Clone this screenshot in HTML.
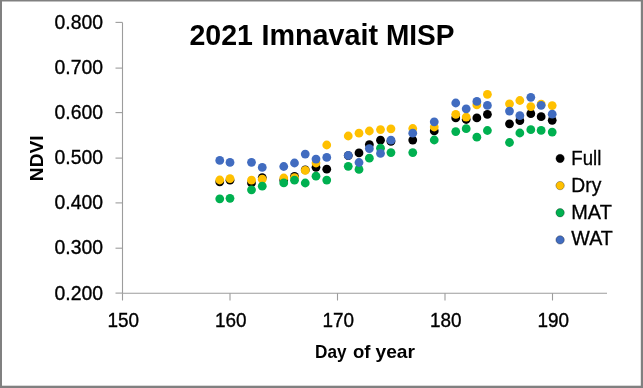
<!DOCTYPE html>
<html><head><meta charset="utf-8"><style>
html,body{margin:0;padding:0;background:#fff;}
body{width:643px;height:388px;overflow:hidden;}
svg{display:block;will-change:transform;font-family:"Liberation Sans",sans-serif;}
</style></head><body>
<svg width="643" height="388" viewBox="0 0 643 388">
<rect x="0" y="0" width="643" height="388" fill="#808080"/>
<rect x="2" y="1.5" width="638.8" height="384.2" fill="#ffffff"/>
<g stroke="#9c9c9c" stroke-width="1.1" fill="none">
<line x1="122.5" y1="22.4" x2="122.5" y2="293.2"/>
<line x1="122.5" y1="293.2" x2="607" y2="293.2"/>
<line x1="115.5" y1="22.40" x2="122.5" y2="22.40"/>
<line x1="115.5" y1="68.10" x2="122.5" y2="68.10"/>
<line x1="115.5" y1="112.60" x2="122.5" y2="112.60"/>
<line x1="115.5" y1="158.10" x2="122.5" y2="158.10"/>
<line x1="115.5" y1="202.90" x2="122.5" y2="202.90"/>
<line x1="115.5" y1="248.20" x2="122.5" y2="248.20"/>
<line x1="115.5" y1="293.10" x2="122.5" y2="293.10"/>
<line x1="122.50" y1="293.2" x2="122.50" y2="300.5"/>
<line x1="230.00" y1="293.2" x2="230.00" y2="300.5"/>
<line x1="337.50" y1="293.2" x2="337.50" y2="300.5"/>
<line x1="445.00" y1="293.2" x2="445.00" y2="300.5"/>
<line x1="552.50" y1="293.2" x2="552.50" y2="300.5"/>
</g>
<g font-size="19.6" fill="#000" stroke="#000" stroke-width="0.35">
<text x="54.6" y="28.72" textLength="48.5" lengthAdjust="spacingAndGlyphs">0.800</text>
<text x="54.6" y="73.85" textLength="48.5" lengthAdjust="spacingAndGlyphs">0.700</text>
<text x="54.6" y="118.98" textLength="48.5" lengthAdjust="spacingAndGlyphs">0.600</text>
<text x="54.6" y="164.11" textLength="48.5" lengthAdjust="spacingAndGlyphs">0.500</text>
<text x="54.6" y="209.24" textLength="48.5" lengthAdjust="spacingAndGlyphs">0.400</text>
<text x="54.6" y="254.37" textLength="48.5" lengthAdjust="spacingAndGlyphs">0.300</text>
<text x="54.6" y="299.50" textLength="48.5" lengthAdjust="spacingAndGlyphs">0.200</text>
<text x="123.30" y="326.6" text-anchor="middle" textLength="31.6" lengthAdjust="spacingAndGlyphs">150</text>
<text x="230.80" y="326.6" text-anchor="middle" textLength="31.6" lengthAdjust="spacingAndGlyphs">160</text>
<text x="338.30" y="326.6" text-anchor="middle" textLength="31.6" lengthAdjust="spacingAndGlyphs">170</text>
<text x="445.80" y="326.6" text-anchor="middle" textLength="31.6" lengthAdjust="spacingAndGlyphs">180</text>
<text x="553.30" y="326.6" text-anchor="middle" textLength="31.6" lengthAdjust="spacingAndGlyphs">190</text>
</g>
<g font-size="29.5" font-weight="bold">
<text x="189.5" y="44.6" textLength="63.5" lengthAdjust="spacingAndGlyphs">2021</text>
<text x="261.5" y="44.6" textLength="116.6" lengthAdjust="spacingAndGlyphs">Imnavait</text>
<text x="386" y="44.6" textLength="68.5" lengthAdjust="spacingAndGlyphs">MISP</text>
</g>
<g font-size="18.5" font-weight="bold">
<text x="315" y="358.2" textLength="31.5" lengthAdjust="spacingAndGlyphs">Day</text>
<text x="353" y="358.2" textLength="17.5" lengthAdjust="spacingAndGlyphs">of</text>
<text x="375.5" y="358.2" textLength="39.5" lengthAdjust="spacingAndGlyphs">year</text>
</g>
<text transform="translate(42.8,181.2) rotate(-90)" x="0" y="0" font-size="18.5" font-weight="bold" textLength="45.8" lengthAdjust="spacingAndGlyphs">NDVI</text>
<g font-size="19.5" fill="#000" stroke="#000" stroke-width="0.3">
<circle cx="560.1" cy="158.5" r="4.2" fill="#000000"/>
<text x="571.3" y="164.6" textLength="30.0" lengthAdjust="spacingAndGlyphs">Full</text>
<circle cx="560.1" cy="185.6" r="4.2" fill="#FFC000"/>
<text x="571.3" y="191.6" textLength="30.0" lengthAdjust="spacingAndGlyphs">Dry</text>
<circle cx="560.1" cy="212.7" r="4.2" fill="#00B050"/>
<text x="571.3" y="218.6" textLength="40.5" lengthAdjust="spacingAndGlyphs">MAT</text>
<circle cx="560.1" cy="239.9" r="4.2" fill="#416CC0"/>
<text x="571.3" y="245.4" textLength="41.5" lengthAdjust="spacingAndGlyphs">WAT</text>
</g>
<circle cx="219.75" cy="181.8" r="4.4" fill="#000000"/>
<circle cx="230.00" cy="180.2" r="4.4" fill="#000000"/>
<circle cx="251.50" cy="183.0" r="4.4" fill="#000000"/>
<circle cx="262.25" cy="177.6" r="4.4" fill="#000000"/>
<circle cx="283.75" cy="180.0" r="4.4" fill="#000000"/>
<circle cx="294.50" cy="176.3" r="4.4" fill="#000000"/>
<circle cx="305.25" cy="169.9" r="4.4" fill="#000000"/>
<circle cx="316.00" cy="167.3" r="4.4" fill="#000000"/>
<circle cx="326.75" cy="169.2" r="4.4" fill="#000000"/>
<circle cx="348.25" cy="155.6" r="4.4" fill="#000000"/>
<circle cx="359.00" cy="152.9" r="4.4" fill="#000000"/>
<circle cx="369.35" cy="144.6" r="4.4" fill="#000000"/>
<circle cx="380.50" cy="140.2" r="4.4" fill="#000000"/>
<circle cx="390.95" cy="141.4" r="4.4" fill="#000000"/>
<circle cx="412.75" cy="140.1" r="4.4" fill="#000000"/>
<circle cx="434.25" cy="130.9" r="4.4" fill="#000000"/>
<circle cx="455.75" cy="117.9" r="4.4" fill="#000000"/>
<circle cx="466.20" cy="119.5" r="4.4" fill="#000000"/>
<circle cx="476.85" cy="117.9" r="4.4" fill="#000000"/>
<circle cx="487.40" cy="114.3" r="4.4" fill="#000000"/>
<circle cx="509.50" cy="123.8" r="4.4" fill="#000000"/>
<circle cx="519.85" cy="120.7" r="4.4" fill="#000000"/>
<circle cx="530.80" cy="113.7" r="4.4" fill="#000000"/>
<circle cx="541.15" cy="116.7" r="4.4" fill="#000000"/>
<circle cx="552.20" cy="120.3" r="4.4" fill="#000000"/>
<circle cx="219.75" cy="180.0" r="4.4" fill="#FFC000"/>
<circle cx="230.00" cy="178.6" r="4.4" fill="#FFC000"/>
<circle cx="251.50" cy="180.2" r="4.4" fill="#FFC000"/>
<circle cx="262.25" cy="179.2" r="4.4" fill="#FFC000"/>
<circle cx="283.75" cy="178.0" r="4.4" fill="#FFC000"/>
<circle cx="294.50" cy="177.6" r="4.4" fill="#FFC000"/>
<circle cx="305.25" cy="170.4" r="4.4" fill="#FFC000"/>
<circle cx="316.00" cy="163.0" r="4.4" fill="#FFC000"/>
<circle cx="326.75" cy="145.0" r="4.4" fill="#FFC000"/>
<circle cx="348.25" cy="136.0" r="4.4" fill="#FFC000"/>
<circle cx="359.00" cy="133.2" r="4.4" fill="#FFC000"/>
<circle cx="369.35" cy="131.0" r="4.4" fill="#FFC000"/>
<circle cx="380.50" cy="129.6" r="4.4" fill="#FFC000"/>
<circle cx="390.95" cy="128.8" r="4.4" fill="#FFC000"/>
<circle cx="412.75" cy="128.5" r="4.4" fill="#FFC000"/>
<circle cx="434.25" cy="127.0" r="4.4" fill="#FFC000"/>
<circle cx="455.75" cy="114.3" r="4.4" fill="#FFC000"/>
<circle cx="466.20" cy="117.1" r="4.4" fill="#FFC000"/>
<circle cx="476.85" cy="104.9" r="4.4" fill="#FFC000"/>
<circle cx="487.40" cy="94.3" r="4.4" fill="#FFC000"/>
<circle cx="509.50" cy="103.8" r="4.4" fill="#FFC000"/>
<circle cx="519.85" cy="100.5" r="4.4" fill="#FFC000"/>
<circle cx="530.80" cy="106.6" r="4.4" fill="#FFC000"/>
<circle cx="541.15" cy="104.2" r="4.4" fill="#FFC000"/>
<circle cx="552.20" cy="105.6" r="4.4" fill="#FFC000"/>
<circle cx="219.75" cy="198.8" r="4.4" fill="#00B050"/>
<circle cx="230.00" cy="198.3" r="4.4" fill="#00B050"/>
<circle cx="251.50" cy="189.8" r="4.4" fill="#00B050"/>
<circle cx="262.25" cy="186.2" r="4.4" fill="#00B050"/>
<circle cx="283.75" cy="182.9" r="4.4" fill="#00B050"/>
<circle cx="294.50" cy="180.2" r="4.4" fill="#00B050"/>
<circle cx="305.25" cy="183.0" r="4.4" fill="#00B050"/>
<circle cx="316.00" cy="176.2" r="4.4" fill="#00B050"/>
<circle cx="326.75" cy="180.1" r="4.4" fill="#00B050"/>
<circle cx="348.25" cy="166.3" r="4.4" fill="#00B050"/>
<circle cx="359.00" cy="169.4" r="4.4" fill="#00B050"/>
<circle cx="369.35" cy="158.2" r="4.4" fill="#00B050"/>
<circle cx="380.50" cy="148.2" r="4.4" fill="#00B050"/>
<circle cx="390.95" cy="152.6" r="4.4" fill="#00B050"/>
<circle cx="412.75" cy="152.6" r="4.4" fill="#00B050"/>
<circle cx="434.25" cy="140.0" r="4.4" fill="#00B050"/>
<circle cx="455.75" cy="131.6" r="4.4" fill="#00B050"/>
<circle cx="466.20" cy="128.7" r="4.4" fill="#00B050"/>
<circle cx="476.85" cy="137.2" r="4.4" fill="#00B050"/>
<circle cx="487.40" cy="130.5" r="4.4" fill="#00B050"/>
<circle cx="509.50" cy="142.5" r="4.4" fill="#00B050"/>
<circle cx="519.85" cy="133.0" r="4.4" fill="#00B050"/>
<circle cx="530.80" cy="129.7" r="4.4" fill="#00B050"/>
<circle cx="541.15" cy="130.4" r="4.4" fill="#00B050"/>
<circle cx="552.20" cy="132.1" r="4.4" fill="#00B050"/>
<circle cx="219.75" cy="160.4" r="4.4" fill="#416CC0"/>
<circle cx="230.00" cy="162.4" r="4.4" fill="#416CC0"/>
<circle cx="251.50" cy="162.3" r="4.4" fill="#416CC0"/>
<circle cx="262.25" cy="167.4" r="4.4" fill="#416CC0"/>
<circle cx="283.75" cy="166.5" r="4.4" fill="#416CC0"/>
<circle cx="294.50" cy="163.0" r="4.4" fill="#416CC0"/>
<circle cx="305.25" cy="154.1" r="4.4" fill="#416CC0"/>
<circle cx="316.00" cy="159.1" r="4.4" fill="#416CC0"/>
<circle cx="326.75" cy="157.4" r="4.4" fill="#416CC0"/>
<circle cx="348.25" cy="155.5" r="4.4" fill="#416CC0"/>
<circle cx="359.00" cy="162.5" r="4.4" fill="#416CC0"/>
<circle cx="369.35" cy="148.6" r="4.4" fill="#416CC0"/>
<circle cx="380.50" cy="153.4" r="4.4" fill="#416CC0"/>
<circle cx="390.95" cy="140.2" r="4.4" fill="#416CC0"/>
<circle cx="412.75" cy="133.2" r="4.4" fill="#416CC0"/>
<circle cx="434.25" cy="121.8" r="4.4" fill="#416CC0"/>
<circle cx="455.75" cy="103.0" r="4.4" fill="#416CC0"/>
<circle cx="466.20" cy="108.8" r="4.4" fill="#416CC0"/>
<circle cx="476.85" cy="101.4" r="4.4" fill="#416CC0"/>
<circle cx="487.40" cy="105.4" r="4.4" fill="#416CC0"/>
<circle cx="509.50" cy="111.1" r="4.4" fill="#416CC0"/>
<circle cx="519.85" cy="115.7" r="4.4" fill="#416CC0"/>
<circle cx="530.80" cy="97.3" r="4.4" fill="#416CC0"/>
<circle cx="541.15" cy="105.3" r="4.4" fill="#416CC0"/>
<circle cx="552.20" cy="114.2" r="4.4" fill="#416CC0"/>
</svg>
</body></html>
